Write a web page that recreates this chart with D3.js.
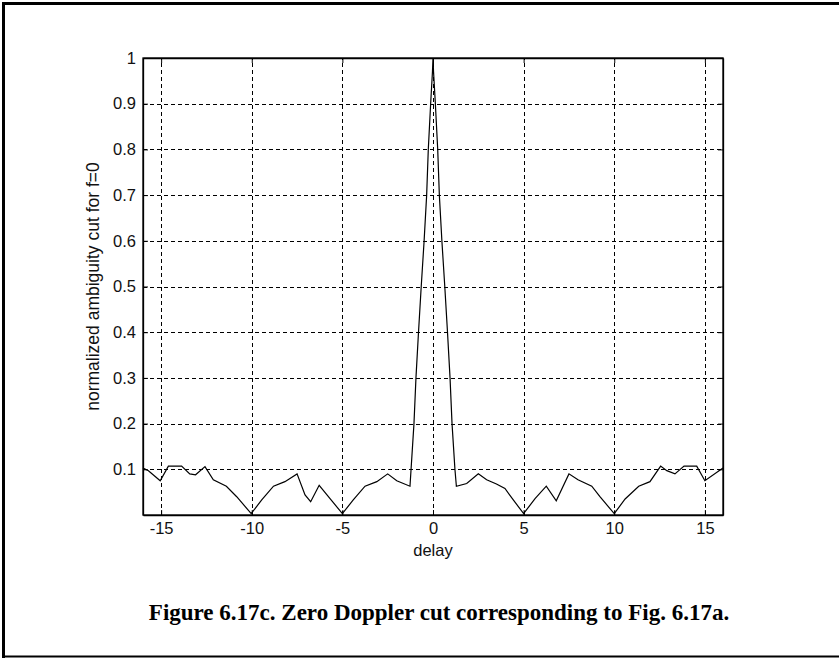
<!DOCTYPE html>
<html>
<head>
<meta charset="utf-8">
<script src="https://cdn.jsdelivr.net/npm/d3@7"></script>
<style>
  html, body { margin: 0; padding: 0; background: #fff; }
  svg { display: block; }
</style>
</head>
<body>
<svg id="chart" width="839" height="658"></svg>
<script>
// ---- data ----
const delay = [
  -16, -15.7, -15.05, -14.6, -13.87, -13.42, -13.1, -12.58, -12.12, -11.4, -10.83, -10.03,
  -9.45, -8.8, -8.17, -7.5, -7.06, -6.75, -6.28, -5.68, -5.0, -4.4, -3.75, -3.1, -2.5, -2.0, -1.27,
  -1.21, -1.05, -0.94, -0.8, -0.65, -0.49, -0.35, -0.26, -0.13, -0.03, 0,
  0.03, 0.13, 0.26, 0.35, 0.49, 0.65, 0.8, 0.94, 1.05, 1.21, 1.29,
  1.86, 2.5, 2.96, 3.5, 3.97, 4.43, 5.0, 5.63, 6.25, 6.8, 7.5, 8.0, 8.76, 9.21, 10.0,
  10.6, 11.35, 11.97, 12.56, 12.9, 13.35, 13.85, 14.55, 15.0, 16
];
const ambiguity = [
  0.103, 0.097, 0.075, 0.107, 0.107, 0.09, 0.088, 0.106, 0.077, 0.063, 0.04, 0.003,
  0.033, 0.063, 0.073, 0.09, 0.044, 0.029, 0.065, 0.036, 0.003, 0.033, 0.063, 0.073, 0.09, 0.075, 0.063,
  0.1, 0.2, 0.3, 0.4, 0.5, 0.6, 0.7, 0.8, 0.9, 0.97, 1.0,
  0.97, 0.9, 0.8, 0.7, 0.6, 0.5, 0.4, 0.3, 0.2, 0.1, 0.063,
  0.069, 0.09, 0.077, 0.068, 0.058, 0.033, 0.003, 0.036, 0.063, 0.031, 0.09, 0.077, 0.063, 0.04, 0.003,
  0.035, 0.063, 0.073, 0.107, 0.097, 0.09, 0.107, 0.107, 0.075, 0.103
];
const xTicks = [-15, -10, -5, 0, 5, 10, 15];
const yTicks = [0.1, 0.2, 0.3, 0.4, 0.5, 0.6, 0.7, 0.8, 0.9, 1];
const xDomain = [-16, 16];
const yDomain = [0, 1];
const xLabel = "delay";
const yLabel = "normalized ambiguity cut for f=0";
const caption = "Figure 6.17c. Zero Doppler cut corresponding to Fig. 6.17a.";

// ---- layout ----
const L = 143, R = 723, T = 58, B = 515;
const svg = d3.select("#chart");
const x = d3.scaleLinear().domain(xDomain).range([L, R]);
const y = d3.scaleLinear().domain(yDomain).range([B, T]);
const font = "'Liberation Sans', Arial, sans-serif";

// outer frame
svg.append("line").attr("x1", 2).attr("x2", 839).attr("y1", 3.5).attr("y2", 3.5)
  .attr("stroke", "#000").attr("stroke-width", 3);
svg.append("line").attr("x1", 3.5).attr("x2", 3.5).attr("y1", 2).attr("y2", 658)
  .attr("stroke", "#000").attr("stroke-width", 3);
svg.append("line").attr("x1", 2).attr("x2", 839).attr("y1", 656.5).attr("y2", 656.5)
  .attr("stroke", "#000").attr("stroke-width", 2);

// grid
const grid = svg.append("g").attr("stroke", "#000").attr("stroke-width", 1)
  .attr("stroke-dasharray", "4,3").attr("shape-rendering", "crispEdges");
grid.selectAll(".gx").data(xTicks).enter().append("line")
  .attr("x1", d => Math.round(x(d)) + 0.5).attr("x2", d => Math.round(x(d)) + 0.5)
  .attr("y1", B).attr("y2", T);
grid.selectAll(".gy").data(yTicks.filter(d => d < 1)).enter().append("line")
  .attr("y1", d => Math.round(y(d)) + 0.5).attr("y2", d => Math.round(y(d)) + 0.5)
  .attr("x1", L).attr("x2", R);

// axes
const fmt = d => String(d);
const axB = svg.append("g").attr("transform", `translate(0,${B})`)
  .call(d3.axisBottom(x).tickValues(xTicks).tickSizeInner(-5).tickSizeOuter(0).tickPadding(7).tickFormat(fmt));
const axT = svg.append("g").attr("transform", `translate(0,${T})`)
  .call(d3.axisTop(x).tickValues(xTicks).tickSizeInner(-5).tickSizeOuter(0).tickFormat(""));
const axL = svg.append("g").attr("transform", `translate(${L},0)`)
  .call(d3.axisLeft(y).tickValues(yTicks).tickSizeInner(-5).tickSizeOuter(0).tickPadding(7).tickFormat(fmt));
const axR = svg.append("g").attr("transform", `translate(${R},0)`)
  .call(d3.axisRight(y).tickValues(yTicks).tickSizeInner(-5).tickSizeOuter(0).tickFormat(""));
[axB, axT, axL, axR].forEach(a => {
  a.select(".domain").attr("stroke", "#000").attr("stroke-width", 1.3);
  a.selectAll(".tick line").attr("stroke", "#000");
  a.selectAll("text").attr("font-family", font).attr("font-size", 16.5).attr("fill", "#111");
});
// full box edges
svg.append("rect").attr("x", L).attr("y", T).attr("width", R - L).attr("height", B - T)
  .attr("fill", "none").attr("stroke", "#000").attr("stroke-width", 1.3);

// curve
const line = d3.line().x((d, i) => x(delay[i])).y((d, i) => y(ambiguity[i]));
svg.append("path").datum(ambiguity).attr("d", line)
  .attr("fill", "none").attr("stroke", "#000").attr("stroke-width", 1.2);

// labels
svg.append("text").attr("x", (L + R) / 2).attr("y", 556).attr("text-anchor", "middle")
  .attr("font-family", font).attr("font-size", 16.5).attr("fill", "#111").text(xLabel);
svg.append("text").attr("transform", `translate(99,${(T + B) / 2}) rotate(-90)`)
  .attr("text-anchor", "middle").attr("font-family", font).attr("font-size", 17.5)
  .attr("fill", "#111").text(yLabel);

// caption
svg.append("text").attr("x", 439).attr("y", 620).attr("text-anchor", "middle")
  .attr("font-family", "'Liberation Serif', 'Times New Roman', serif").attr("font-weight", "bold")
  .attr("font-size", 23).attr("fill", "#000").text(caption);
</script>
</body>
</html>
